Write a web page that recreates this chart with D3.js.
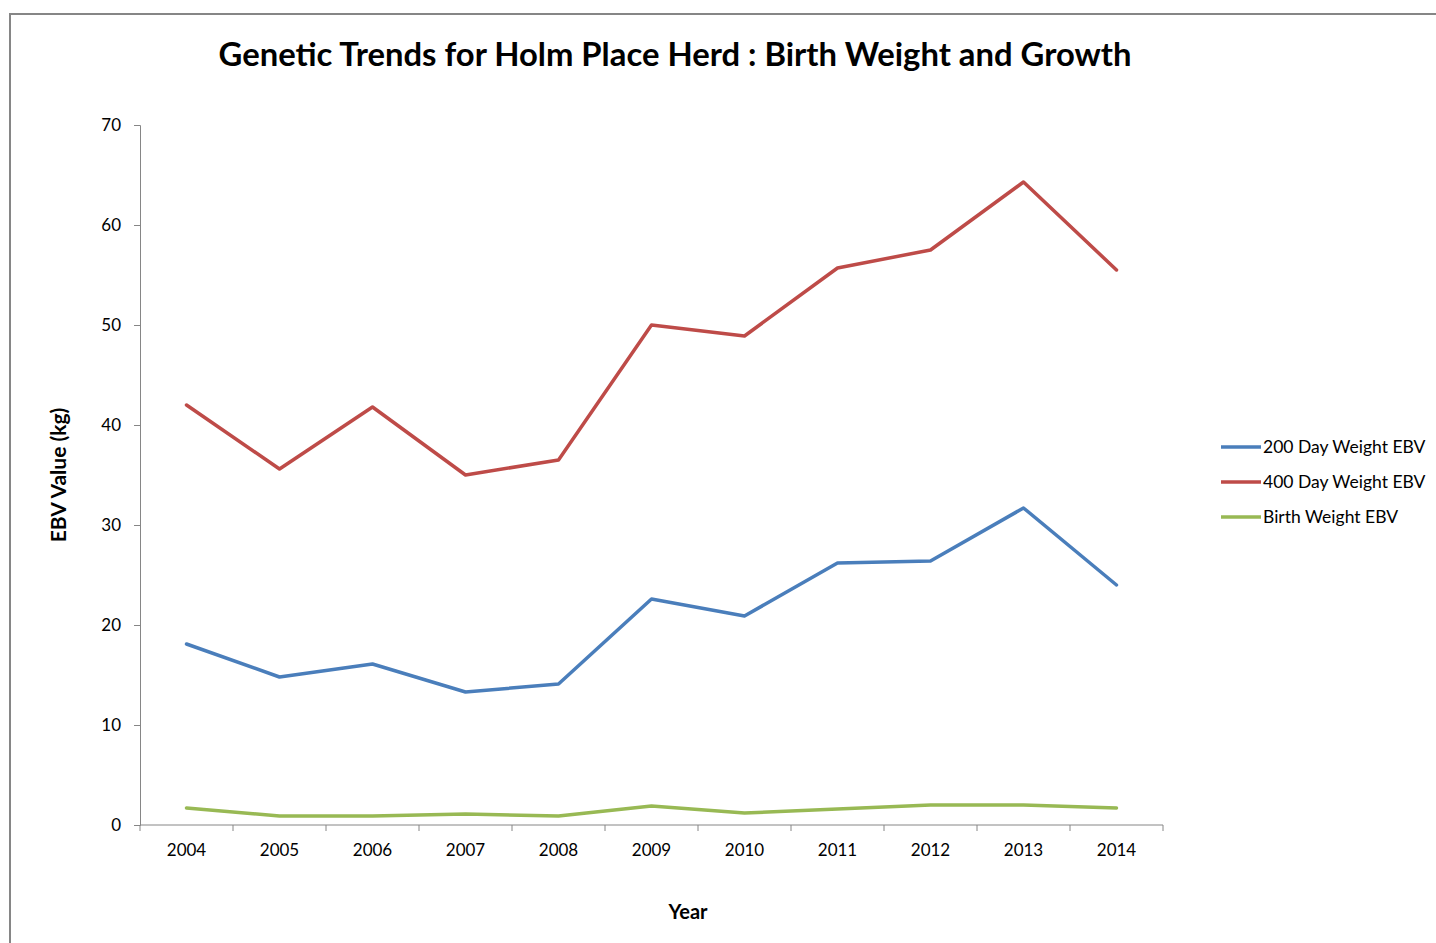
<!DOCTYPE html>
<html><head><meta charset="utf-8">
<script src="https://cdn.jsdelivr.net/npm/d3@7"></script>
<style>body{margin:0;background:#fff}svg{display:block}</style>
</head><body>
<svg id="c" width="1436" height="943"></svg>
<script>
const years = ["2004","2005","2006","2007","2008","2009","2010","2011","2012","2013","2014"];
const day200 = [18.1,14.8,16.1,13.3,14.1,22.6,20.9,26.2,26.4,31.7,24.0];
const day400 = [42.0,35.6,41.8,35.0,36.5,50.0,48.9,55.7,57.5,64.3,55.5];
const birth = [1.7,0.9,0.9,1.1,0.9,1.9,1.2,1.6,2.0,2.0,1.7];
const yTicks = [0,10,20,30,40,50,60,70];
const seriesNames = ["200 Day Weight EBV","400 Day Weight EBV","Birth Weight EBV"];
const seriesColors = ["#4a7ebb","#be4b48","#98b954"];
const series = [day200, day400, birth];

(function(){
const svg = d3.select("#c");
const font = "Lato, 'Open Sans', sans-serif";
svg.append("rect").attr("x",10).attr("y",14).attr("width",1440).attr("height",940)
  .attr("fill","#fff").attr("stroke","#868686").attr("stroke-width",2);

const pL=140, pR=1163, pT=125, pB=825;
const x = d3.scaleBand().domain(years).range([pL,pR]);
const y = d3.scaleLinear().domain([0,70]).range([pB,pT]);

svg.append("text").attr("x",675).attr("y",66).attr("text-anchor","middle")
  .attr("font-family",font).attr("font-weight","bold").attr("font-size",32.8).attr("fill","#000")
  .text("Genetic Trends for Holm Place Herd : Birth Weight and Growth");

const yAxis = svg.append("g").attr("transform",`translate(${pL},0)`)
  .call(d3.axisLeft(y).tickValues(yTicks).tickSize(6).tickPadding(13).tickFormat(d3.format("d")));
yAxis.selectAll("path,line").attr("stroke","#868686");
yAxis.selectAll("text").attr("font-family",font).attr("font-size",17).attr("fill","#000");

const xAxis = svg.append("g").attr("transform",`translate(0,${pB})`)
  .call(d3.axisBottom(x).tickSize(0).tickPadding(19));
xAxis.select("path").attr("stroke","#868686").attr("d",`M${pL},0H${pR}`);
xAxis.selectAll("text").attr("font-family",font).attr("font-size",17).attr("fill","#000");
const bounds = years.map(d=>x(d)).concat([pR]);
svg.append("g").selectAll("line").data(bounds).join("line")
  .attr("x1",d=>d).attr("x2",d=>d).attr("y1",pB).attr("y2",pB+6).attr("stroke","#868686");

svg.append("text").attr("x",688).attr("y",919).attr("text-anchor","middle")
  .attr("font-family",font).attr("font-weight","bold").attr("font-size",20).text("Year");
svg.append("text").attr("transform","translate(66,475) rotate(-90)").attr("text-anchor","middle")
  .attr("font-family",font).attr("font-weight","bold").attr("font-size",21).text("EBV Value (kg)");

const line = d3.line().x((d,i)=>x(years[i])+x.bandwidth()/2).y(d=>y(d));
series.forEach((s,k)=>{
  svg.append("path").datum(s).attr("d",line).attr("fill","none")
    .attr("stroke",seriesColors[k]).attr("stroke-width",3.5).attr("stroke-linejoin","round").attr("stroke-linecap","round");
});

const lg = svg.append("g");
seriesNames.forEach((n,k)=>{
  const yy = 447 + k*35;
  lg.append("line").attr("x1",1221).attr("x2",1261).attr("y1",yy).attr("y2",yy)
    .attr("stroke",seriesColors[k]).attr("stroke-width",3.5);
  lg.append("text").attr("x",1263).attr("y",yy+6).attr("font-family",font).attr("font-size",17.5)
    .attr("fill","#000").text(n);
});
})();
</script>
</body></html>
